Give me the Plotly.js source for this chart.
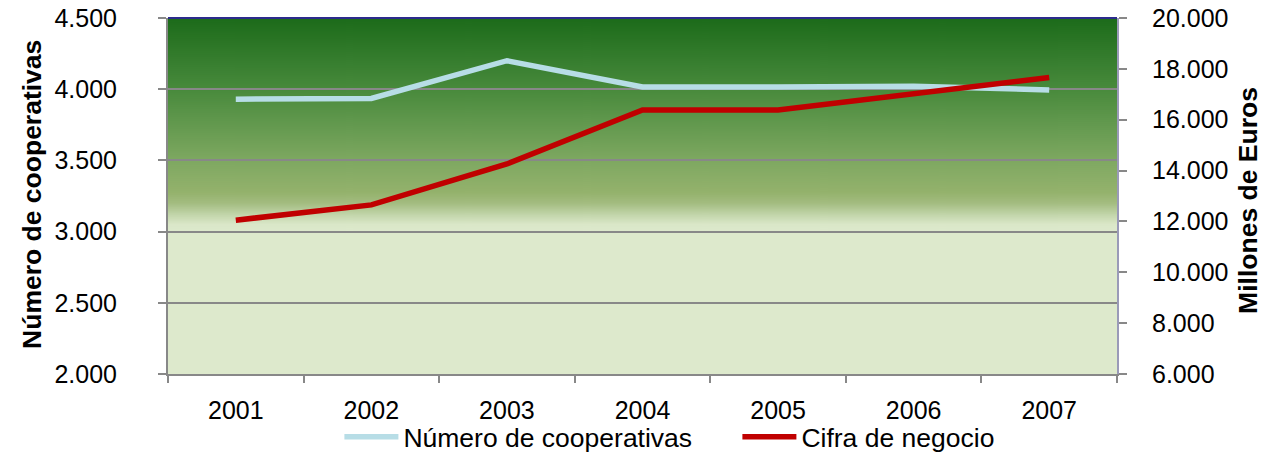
<!DOCTYPE html>
<html>
<head>
<meta charset="utf-8">
<script src="https://cdn.plot.ly/plotly-3.0.1.min.js"></script>
<style>
html,body{margin:0;padding:0;background:#fff;}
#chart{width:1263px;height:453px;}
</style>
</head>
<body>
<div id="chart"></div>
<script>
// ---- data ----
const years = ['2001', '2002', '2003', '2004', '2005', '2006', '2007'];
const numeroCooperativas = [3930, 3935, 4200, 4015, 4015, 4020, 3995];
const cifraNegocio = [12050, 12650, 14260, 16380, 16380, 17010, 17660];
const seriesNames = ['Número de cooperativas', 'Cifra de negocio'];
const leftTitle = 'Número de cooperativas';
const rightTitle = 'Millones de Euros';

// ---- background gradient image (style only) ----
function gradientImage() {
  const c = document.createElement('canvas');
  c.width = 8; c.height = 356;
  const g = c.getContext('2d');
  const lg = g.createLinearGradient(0, 0, 0, 356);
  lg.addColorStop(0.00, '#1c6b1a');
  lg.addColorStop(0.20, '#488a3c');
  lg.addColorStop(0.40, '#7ea861');
  lg.addColorStop(0.49, '#94b26c');
  lg.addColorStop(0.52, '#a3bc80');
  lg.addColorStop(0.555, '#c4d7ad');
  lg.addColorStop(0.58, '#dae7c8');
  lg.addColorStop(0.60, '#dde9cc');
  lg.addColorStop(1.00, '#dde9cc');
  g.fillStyle = lg;
  g.fillRect(0, 0, 8, 356);
  return c.toDataURL('image/png');
}

const FONT = 'Liberation Sans, Arial, Helvetica, sans-serif';
const TICK = 25;
const TXT = 26.5;

const traces = [
  {
    x: years, y: numeroCooperativas, name: seriesNames[0],
    type: 'scatter', mode: 'lines', yaxis: 'y',
    line: {color: '#b7dde6', width: 5.5}
  },
  {
    x: years, y: cifraNegocio, name: seriesNames[1],
    type: 'scatter', mode: 'lines', yaxis: 'y2',
    line: {color: '#c00000', width: 5.5}
  }
];

const layout = {
  width: 1263, height: 453,
  margin: {l: 168, r: 146, t: 18, b: 79},
  paper_bgcolor: '#ffffff',
  plot_bgcolor: '#dde9cc',
  separators: ',.',
  font: {family: FONT, size: TICK, color: '#000'},
  showlegend: true,
  legend: {
    orientation: 'h', x: 0.600, xanchor: 'center',
    yref: 'container', y: 0.035, yanchor: 'middle',
    font: {family: FONT, size: TXT, color: '#000'},
    itemwidth: 54, entrywidth: 329,
    bgcolor: 'rgba(0,0,0,0)', tracegroupgap: 0, borderwidth: 0
  },
  xaxis: {
    type: 'category', range: [-0.5, 6.5],
    tickson: 'boundaries', ticks: 'outside', ticklen: 7, tickcolor: '#888', tickwidth: 2,
    showline: true, linecolor: '#888', linewidth: 2,
    showgrid: false, zeroline: false,
    ticklabelstandoff: 13,
    tickfont: {family: FONT, size: TICK, color: '#000'},
    fixedrange: true
  },
  yaxis: {
    range: [2000, 4500], dtick: 500, tickformat: ',d',
    ticks: 'outside', ticklen: 8, tickcolor: '#888', tickwidth: 2,
    showline: true, linecolor: '#888', linewidth: 2,
    showgrid: true, gridcolor: '#888', gridwidth: 2, zeroline: false,
    ticklabelstandoff: 36,
    tickfont: {family: FONT, size: TICK, color: '#000'},
    fixedrange: true
  },
  yaxis2: {
    overlaying: 'y', side: 'right',
    range: [6000, 20000], dtick: 2000, tickformat: ',d',
    ticks: 'outside', ticklen: 8, tickcolor: '#888', tickwidth: 2,
    showline: true, linecolor: '#9a9ab8', linewidth: 2,
    showgrid: false, zeroline: false,
    ticklabelstandoff: 20,
    tickfont: {family: FONT, size: TICK, color: '#000'},
    fixedrange: true
  },
  images: [{
    source: gradientImage(), xref: 'paper', yref: 'paper',
    x: 0, y: 1, sizex: 1, sizey: 1, xanchor: 'left', yanchor: 'top',
    sizing: 'stretch', layer: 'below'
  }],
  shapes: [{
    type: 'line', xref: 'paper', yref: 'paper', x0: 0, x1: 1, y0: 1, y1: 1,
    line: {color: '#2b2b8c', width: 2}, layer: 'above'
  }],
  annotations: [
    {
      text: '<b>' + leftTitle + '</b>', xref: 'paper', yref: 'paper',
      x: -0.1433, y: 0.503, xanchor: 'center', yanchor: 'middle',
      textangle: -90, showarrow: false,
      font: {family: FONT, size: TXT, color: '#000'}
    },
    {
      text: '<b>' + rightTitle + '</b>', xref: 'paper', yref: 'paper',
      x: 1.138, y: 0.489, xanchor: 'center', yanchor: 'middle',
      textangle: -90, showarrow: false,
      font: {family: FONT, size: TXT, color: '#000'}
    }
  ]
};

Plotly.newPlot('chart', traces, layout, {displayModeBar: false, staticPlot: true});
</script>
</body>
</html>
